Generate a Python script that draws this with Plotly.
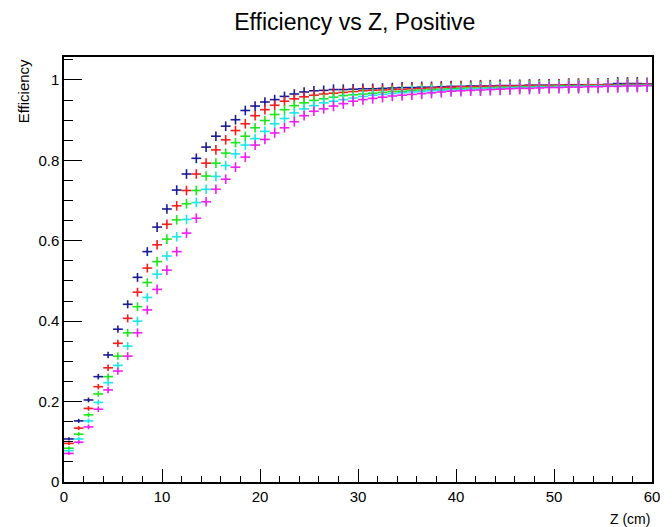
import plotly.graph_objects as go

Z_CENTERS = [i + 0.5 for i in range(60)]

BLUE = [0.107, 0.152, 0.204, 0.262, 0.316, 0.380, 0.442, 0.509, 0.573, 0.634,
        0.679, 0.726, 0.766, 0.805, 0.833, 0.860, 0.885, 0.901, 0.924, 0.935,
        0.945, 0.951, 0.959, 0.965, 0.970, 0.973, 0.974, 0.976, 0.976, 0.977,
        0.978, 0.978, 0.979, 0.980, 0.981, 0.981, 0.982, 0.982, 0.983, 0.984,
        0.984, 0.985, 0.985, 0.985, 0.986, 0.986, 0.986, 0.987, 0.987, 0.987,
        0.987, 0.988, 0.988, 0.988, 0.988, 0.989, 0.991, 0.991, 0.991, 0.990]
RED = [0.096, 0.134, 0.183, 0.237, 0.284, 0.345, 0.407, 0.472, 0.532, 0.590,
       0.641, 0.687, 0.725, 0.766, 0.793, 0.826, 0.851, 0.874, 0.891, 0.911,
       0.926, 0.937, 0.947, 0.953, 0.958, 0.962, 0.965, 0.967, 0.969, 0.971,
       0.973, 0.974, 0.975, 0.976, 0.977, 0.978, 0.979, 0.980, 0.981, 0.982,
       0.983, 0.983, 0.984, 0.984, 0.985, 0.985, 0.985, 0.986, 0.986, 0.986,
       0.987, 0.987, 0.987, 0.988, 0.988, 0.988, 0.988, 0.989, 0.989, 0.989]
GREEN = [0.084, 0.119, 0.167, 0.219, 0.262, 0.313, 0.371, 0.436, 0.496, 0.548,
         0.604, 0.652, 0.692, 0.725, 0.761, 0.793, 0.818, 0.844, 0.860, 0.881,
         0.899, 0.914, 0.926, 0.936, 0.943, 0.949, 0.953, 0.957, 0.961, 0.963,
         0.965, 0.967, 0.969, 0.971, 0.972, 0.974, 0.975, 0.976, 0.977, 0.978,
         0.979, 0.980, 0.980, 0.981, 0.982, 0.982, 0.983, 0.983, 0.984, 0.984,
         0.985, 0.985, 0.985, 0.986, 0.986, 0.986, 0.987, 0.987, 0.987, 0.988]
CYAN = [0.078, 0.107, 0.152, 0.198, 0.247, 0.290, 0.338, 0.400, 0.459, 0.517,
        0.562, 0.610, 0.653, 0.695, 0.728, 0.760, 0.787, 0.816, 0.838, 0.854,
        0.872, 0.891, 0.904, 0.918, 0.928, 0.936, 0.943, 0.947, 0.951, 0.955,
        0.959, 0.962, 0.964, 0.966, 0.968, 0.970, 0.971, 0.973, 0.974, 0.975,
        0.976, 0.977, 0.978, 0.979, 0.979, 0.980, 0.981, 0.981, 0.982, 0.982,
        0.983, 0.983, 0.984, 0.984, 0.985, 0.985, 0.985, 0.986, 0.986, 0.986]
MAGENTA = [0.071, 0.099, 0.137, 0.181, 0.229, 0.276, 0.313, 0.371, 0.428, 0.479,
           0.527, 0.573, 0.619, 0.656, 0.697, 0.728, 0.753, 0.783, 0.808, 0.838,
           0.852, 0.868, 0.881, 0.896, 0.911, 0.922, 0.928, 0.935, 0.941, 0.947,
           0.951, 0.954, 0.957, 0.960, 0.962, 0.964, 0.966, 0.968, 0.970, 0.972,
           0.973, 0.974, 0.975, 0.976, 0.977, 0.978, 0.979, 0.979, 0.980, 0.981,
           0.981, 0.982, 0.982, 0.983, 0.983, 0.984, 0.984, 0.985, 0.985, 0.986]
ERR = [0.004, 0.005, 0.006, 0.007, 0.008, 0.009, 0.010, 0.011, 0.011, 0.012,
       0.012, 0.012, 0.012, 0.012, 0.012, 0.012, 0.012, 0.012, 0.012, 0.012,
       0.012, 0.012, 0.012, 0.012, 0.012, 0.012, 0.012, 0.013, 0.013, 0.013,
       0.013, 0.013, 0.013, 0.013, 0.014, 0.014, 0.014, 0.014, 0.014, 0.014,
       0.014, 0.014, 0.015, 0.015, 0.015, 0.015, 0.015, 0.015, 0.015, 0.015,
       0.015, 0.016, 0.016, 0.016, 0.016, 0.016, 0.016, 0.016, 0.016, 0.016]
HALF_BIN = 0.5

SERIES = [
    (BLUE, "#1c1c96"),
    (RED, "#f51e1e"),
    (GREEN, "#1ee61e"),
    (CYAN, "#1ee6e6"),
    (MAGENTA, "#f01ef0"),
]

fig = go.Figure()
for vals, col in SERIES:
    fig.add_trace(go.Scatter(
        x=Z_CENTERS, y=vals, mode="markers",
        marker=dict(size=2, color=col),
        error_x=dict(type="constant", value=HALF_BIN, width=0, thickness=1.6, color=col),
        error_y=dict(type="data", array=ERR, width=0, thickness=1.6, color=col),
        showlegend=False, hoverinfo="skip",
    ))

FONT = "Liberation Sans, Arial, sans-serif"

fig.update_layout(
    width=672, height=527,
    margin=dict(l=64, r=15, t=57, b=45),
    paper_bgcolor="white", plot_bgcolor="white",
    font=dict(family=FONT, color="black", size=15),
    title=dict(text="Efficiency vs Z, Positive", x=0.528, xanchor="center",
               y=1 - 22 / 527, yanchor="middle",
               font=dict(family="Liberation Sans Narrow, " + FONT, size=23)),
)
fig.update_xaxes(
    range=[0, 60], showgrid=False, zeroline=False,
    showline=True, linecolor="black", linewidth=1.5, mirror=True,
    ticks="inside", ticklen=13, tickwidth=1, tickcolor="black",
    tickvals=[0, 10, 20, 30, 40, 50, 60],
    ticktext=["0", "10", "20", "30", "40", "50", "60"],
    minor=dict(dtick=2, ticks="inside", ticklen=6, tickcolor="black", tickwidth=1),
    tickfont=dict(size=15),
)
fig.update_yaxes(
    range=[0, 1.057], showgrid=False, zeroline=False,
    showline=True, linecolor="black", linewidth=1.5, mirror=True,
    ticks="inside", ticklen=18, tickwidth=1, tickcolor="black",
    tickvals=[0, 0.2, 0.4, 0.6, 0.8, 1.0],
    ticktext=["0", "0.2", "0.4", "0.6", "0.8", "1"],
    minor=dict(dtick=0.05, ticks="inside", ticklen=9, tickcolor="black", tickwidth=1),
    tickfont=dict(size=15),
)
fig.add_annotation(text="Efficiency", xref="paper", yref="paper",
                   x=-64 / 593 + 23 / 593, y=1.0, textangle=-90,
                   xanchor="center", yanchor="top", showarrow=False,
                   font=dict(size=15, family=FONT))
fig.add_annotation(text="Z (cm)", xref="paper", yref="paper",
                   x=1.0, y=-27 / 425, xanchor="right", yanchor="top",
                   showarrow=False, font=dict(size=14, family=FONT))

fig.write_html("out.html")
